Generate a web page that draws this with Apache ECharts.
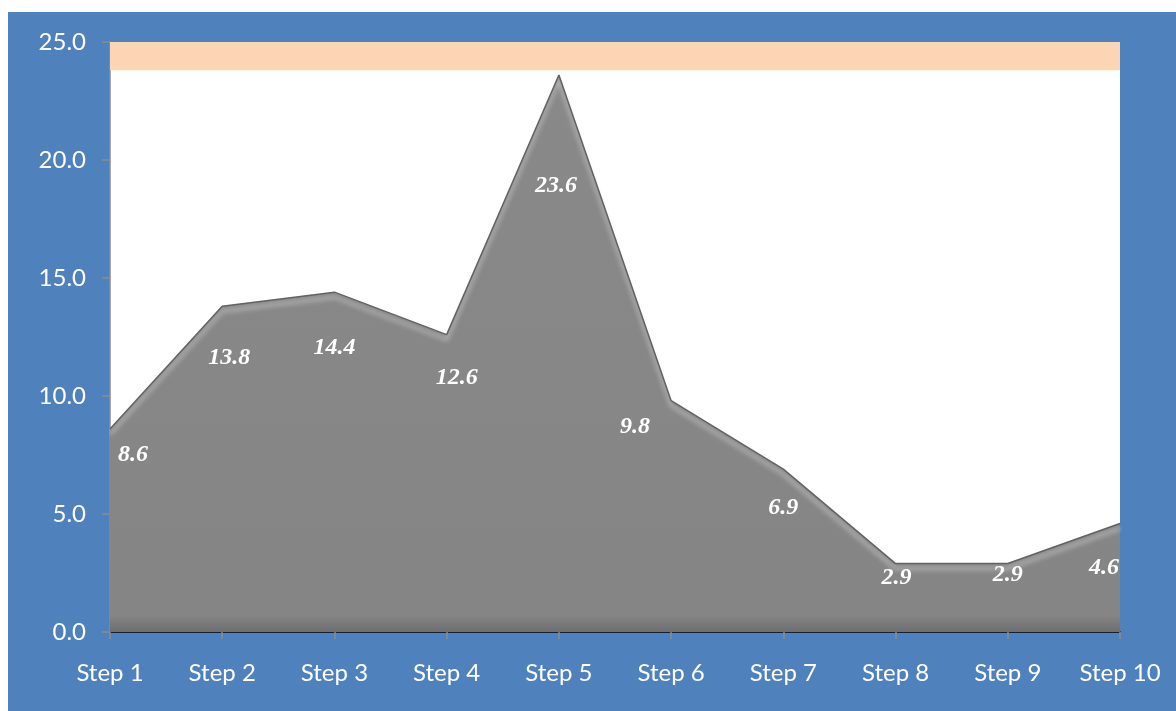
<!DOCTYPE html>
<html>
<head>
<meta charset="utf-8">
<script src="https://cdn.jsdelivr.net/npm/echarts@6/dist/echarts.min.js"></script>
<style>
  html, body { margin: 0; padding: 0; background: #ffffff; width: 1176px; height: 711px; overflow: hidden; }
  #chart { position: absolute; left: 8px; top: 12px; width: 1168px; height: 699px; }
</style>
</head>
<body>
<div id="chart"></div>
<script>
// Categories and values of the area series
const categories = ['Step 1', 'Step 2', 'Step 3', 'Step 4', 'Step 5', 'Step 6', 'Step 7', 'Step 8', 'Step 9', 'Step 10'];
const values = [8.6, 13.8, 14.4, 12.6, 23.6, 9.8, 6.9, 2.9, 2.9, 4.6];
// Shaded band near the top of the value axis
const bandRange = [23.8, 25];
// Value axis range
const yMin = 0, yMax = 25, yStep = 5;

// Per-point label nudges (px) so labels sit inside the area
const labelOffsets = [[23, 26], [7, 51], [0, 56], [10, 43], [-3, 111], [-36, 26], [0, 39], [1, 14], [0, 11], [-16, 44]];

const chart = echarts.init(document.getElementById('chart'), null, { renderer: 'canvas' });

const seriesData = values.map((v, i) => ({
  value: v,
  label: { offset: labelOffsets[i] }
}));

chart.setOption({
  backgroundColor: '#4F81BD',
  animation: false,
  grid: { left: 102, top: 30, right: 56, bottom: 79, show: true, backgroundColor: '#ffffff', borderWidth: 0 },
  xAxis: {
    type: 'category',
    data: categories,
    boundaryGap: false,
    axisLine: { show: true, lineStyle: { color: '#000000', width: 1.5 } },
    axisTick: { show: true, alignWithLabel: true, length: 7, lineStyle: { color: '#8c8c8c', width: 1.5 } },
    axisLabel: { color: '#ffffff', fontFamily: 'Lato', fontSize: 24, margin: 29 },
    splitLine: { show: false }
  },
  yAxis: {
    type: 'value',
    min: yMin, max: yMax, interval: yStep,
    axisLine: { show: true, lineStyle: { color: '#8c8c8c', width: 1.5 } },
    axisTick: { show: true, length: 8, lineStyle: { color: '#8c8c8c', width: 1.5 } },
    axisLabel: { color: '#ffffff', fontFamily: 'Lato', fontSize: 24, margin: 24,
      formatter: v => v.toFixed(1) },
    splitLine: { show: false }
  },
  series: [{
    type: 'line',
    data: seriesData,
    symbol: 'circle',
    symbolSize: 1,
    itemStyle: { color: 'rgba(0,0,0,0)' },
    lineStyle: {
      color: '#626262', width: 1.5,
      shadowColor: 'rgba(230,230,230,1)', shadowBlur: 5, shadowOffsetY: 5
    },
    areaStyle: {
      opacity: 1,
      color: new echarts.graphic.LinearGradient(0, 0, 0, 1, [
        { offset: 0, color: '#898989' },
        { offset: 0.97, color: '#858585' },
        { offset: 1, color: '#6e6e6e' }
      ])
    },
    label: {
      show: true,
      position: 'inside',
      color: '#ffffff',
      fontFamily: 'Liberation Serif',
      fontStyle: 'italic',
      fontWeight: 'bold',
      fontSize: 24,
      formatter: p => p.value.toFixed(1)
    },
    markArea: {
      silent: true,
      itemStyle: { color: '#FCD5B5', opacity: 1 },
      data: [[{ yAxis: bandRange[0] }, { yAxis: bandRange[1] }]]
    }
  }]
});
</script>
</body>
</html>
